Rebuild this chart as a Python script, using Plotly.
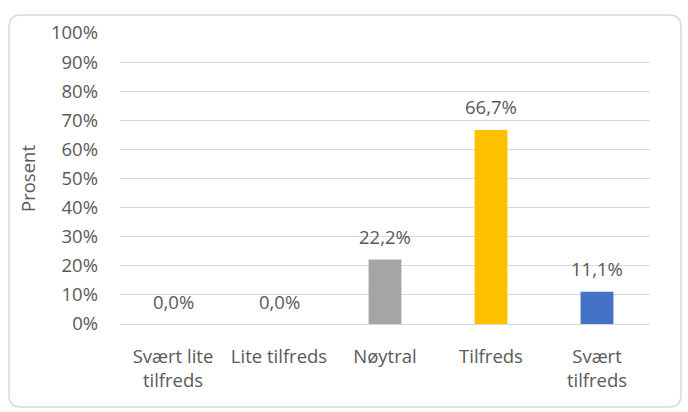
import plotly.graph_objects as go

categories = ["Svært lite<br>tilfreds", "Lite tilfreds", "Nøytral", "Tilfreds", "Svært<br>tilfreds"]
values = [0.0, 0.0, 22.2, 66.7, 11.1]
bar_colors = ["#4472C4", "#ED7D31", "#A5A5A5", "#FFC000", "#4472C4"]
y_ticks = list(range(0, 101, 10))
y_tick_labels = [f"{t}%" for t in y_ticks]
value_labels = [f"{v:.1f}".replace(".", ",") + "%" for v in values]

W, H = 688, 412
L, R, T, B = 120, 38, 33, 88
pw, ph = W - L - R, H - T - B

def px(x):
    return (x - L) / pw

def py(y):
    return (H - B - y) / ph

# rounded border path in paper coords
x0, y0, x1, y1, r = 9, 15, 681, 407, 12
path = (
    f"M {px(x0 + r)} {py(y0)} L {px(x1 - r)} {py(y0)} "
    f"Q {px(x1)} {py(y0)} {px(x1)} {py(y0 + r)} "
    f"L {px(x1)} {py(y1 - r)} Q {px(x1)} {py(y1)} {px(x1 - r)} {py(y1)} "
    f"L {px(x0 + r)} {py(y1)} Q {px(x0)} {py(y1)} {px(x0)} {py(y1 - r)} "
    f"L {px(x0)} {py(y0 + r)} Q {px(x0)} {py(y0)} {px(x0 + r)} {py(y0)} Z"
)

font_family = "Open Sans"
text_color = "#595959"
fs = 18.5

fig = go.Figure(
    go.Bar(
        x=categories,
        y=values,
        marker=dict(color=bar_colors, line=dict(width=0)),
        width=0.31,
        hoverinfo="skip",
    )
)

for c, v, lab in zip(categories, values, value_labels):
    fig.add_annotation(
        x=c, y=v, xref="x", yref="y", text=lab, showarrow=False,
        yanchor="middle", yshift=23,
        font=dict(family=font_family, size=fs, color=text_color),
    )

fig.add_shape(type="path", path=path, xref="paper", yref="paper",
              line=dict(color="#D9D9D9", width=1.5), fillcolor="rgba(0,0,0,0)", layer="below")

fig.update_layout(
    width=W, height=H,
    margin=dict(l=L, r=R, t=T, b=B),
    paper_bgcolor="white", plot_bgcolor="white",
    showlegend=False,
    font=dict(family=font_family, size=fs, color=text_color),
    xaxis=dict(
        showgrid=False, showline=False, zeroline=False, ticks="",
        ticklabelstandoff=19,
        tickfont=dict(family=font_family, size=fs, color=text_color),
    ),
    yaxis=dict(
        range=[0, 100], tickvals=y_ticks, ticktext=y_tick_labels,
        showgrid=True, gridcolor="#D9D9D9", gridwidth=1.3,
        zeroline=True, zerolinecolor="#D9D9D9", zerolinewidth=1.3,
        showline=False, ticks="",
        ticklabelstandoff=21,
        tickfont=dict(family=font_family, size=fs, color=text_color),
        title=dict(text="Prosent", standoff=10,
                   font=dict(family=font_family, size=fs, color=text_color)),
    ),
)

fig.write_html("out.html", config={"displayModeBar": False},
               post_script="document.body.style.margin='0';")
